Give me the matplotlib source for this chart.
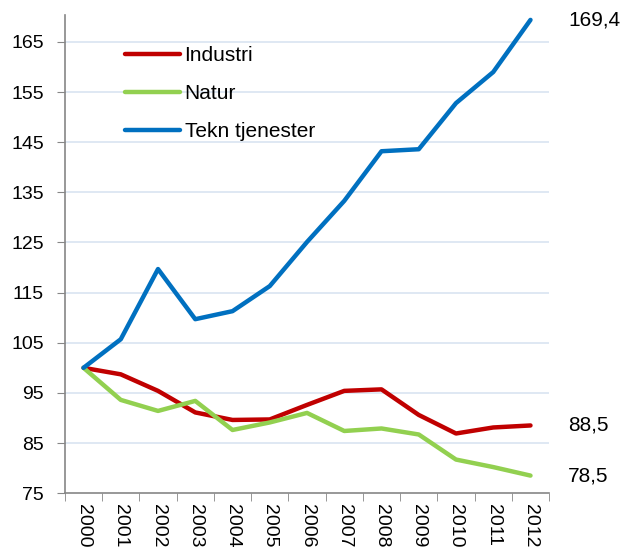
import matplotlib
matplotlib.use("Agg")
import matplotlib.pyplot as plt
import numpy as np

plt.rcParams['font.family'] = ['Liberation Sans', 'DejaVu Sans']

years = ['2000', '2001', '2002', '2003', '2004', '2005', '2006', '2007', '2008', '2009', '2010', '2011', '2012']
industri = [100, 98.7, 95.4, 91.1, 89.6, 89.7, 92.6, 95.4, 95.7, 90.6, 86.9, 88.1, 88.5]
natur = [100, 93.6, 91.4, 93.4, 87.6, 89.1, 91.0, 87.4, 87.9, 86.7, 81.7, 80.2, 78.5]
tekn = [100, 105.7, 119.7, 109.7, 111.3, 116.3, 125.1, 133.3, 143.2, 143.6, 152.8, 159.0, 169.4]
yticks = [75, 85, 95, 105, 115, 125, 135, 145, 155, 165]
end_labels = ['88,5', '78,5', '169,4']

fig = plt.figure(figsize=(6.24, 5.51), dpi=100)
ax = fig.add_axes([0.104, 0.105, 0.776, 0.868])

x = np.arange(len(years))
ax.plot(x, industri, color='#C00000', lw=3.2, label='Industri', solid_capstyle='round')
ax.plot(x, natur, color='#92D050', lw=3.2, label='Natur', solid_capstyle='round')
ax.plot(x, tekn, color='#0070C0', lw=3.2, label='Tekn tjenester', solid_capstyle='round')

ax.set_xlim(-0.5, len(years) - 0.5)
ax.set_ylim(75, 170.4)
ax.set_yticks(yticks)
ax.set_yticklabels([str(v) for v in yticks], fontsize=14)
ax.set_xticks(x)
ax.set_xticklabels(years, rotation=270, fontsize=14, va='top', ha='center')
ax.set_xticks(np.arange(-0.5, len(years)), minor=True)
ax.tick_params(axis='x', which='major', length=0, pad=8)
ax.tick_params(axis='x', which='minor', length=6, color='#868686', direction='out')
ax.tick_params(axis='y', length=6, color='#868686', direction='out', pad=9)

for v in yticks[1:]:
    ax.axhline(v, color='#DCE6F2', lw=1.3, zorder=0)

for s in ['top', 'right']:
    ax.spines[s].set_visible(False)
for s in ['left', 'bottom']:
    ax.spines[s].set_color('#868686')
    ax.spines[s].set_linewidth(1.2)

vals = [industri[-1], natur[-1], tekn[-1]]
for lab, v in zip(end_labels, vals):
    ax.annotate(lab, xy=(x[-1], v), xytext=(27, 0), textcoords='offset points',
                fontsize=15, va='center', ha='left', annotation_clip=False)

leg = ax.legend(loc='upper left', bbox_to_anchor=(0.124, 0.934), frameon=False,
                fontsize=15, handlelength=2.64, handletextpad=0.22, labelspacing=0.9,
                borderaxespad=0, borderpad=0)

fig.savefig('out.png', dpi=100)
